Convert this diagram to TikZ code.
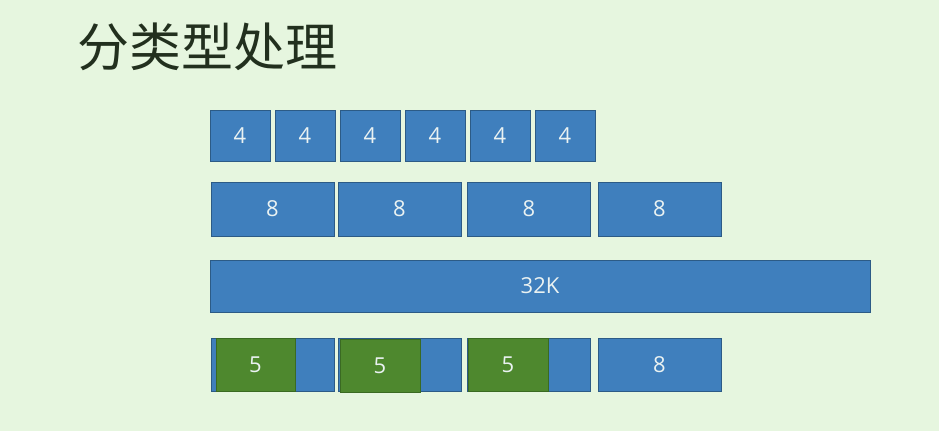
\documentclass[tikz,border=0pt]{standalone}
\usepackage{fontspec}
\setmainfont{Open Sans}
\newfontfamily\cjk{Noto Sans CJK SC}

\definecolor{pagebg}{HTML}{E6F6DF}
\definecolor{cellblue}{HTML}{3F7FBD}
\definecolor{cellline}{HTML}{2C5B86}
\definecolor{usedgreen}{HTML}{4E882E}
\definecolor{usedline}{HTML}{3A6A22}
\definecolor{celltext}{HTML}{EAF2F2}
\definecolor{titleink}{HTML}{22301E}

\tikzset{
	cell/.style={draw=cellline, fill=cellblue, line width=0.9pt, inner sep=0pt,
		text=celltext, font=\fontsize{22}{22}\selectfont, minimum height=#1},
	cell/.default=52pt,
	used/.style={draw=usedline, fill=usedgreen, line width=0.9pt, inner sep=0pt,
		text=celltext, font=\fontsize{22}{22}\selectfont, minimum height=53pt, minimum width=80pt},
}

\begin{document}
\begin{tikzpicture}[x=1pt, y=-1pt]
		\fill[pagebg] (0,0) rectangle (939,431);
		\useasboundingbox (0,0) rectangle (939,431);
		
		\node[anchor=west, inner sep=0pt, text=titleink, font=\cjk\fontsize{52}{52}\selectfont] (title) at (77,47) {分类型处理};
		
		% size class 4
		\node[cell=51pt, minimum width=60pt] (s4a) at (240,136) {4};
		\node[cell=51pt, minimum width=60pt] (s4b) at (305,136) {4};
		\node[cell=51pt, minimum width=60pt] (s4c) at (370,136) {4};
		\node[cell=51pt, minimum width=60pt] (s4d) at (435,136) {4};
		\node[cell=51pt, minimum width=60pt] (s4e) at (500,136) {4};
		\node[cell=51pt, minimum width=60pt] (s4f) at (565,136) {4};
		
		% size class 8
		\node[cell=54pt, minimum width=123pt] (s8a) at (272.5,209) {8};
		\node[cell=54pt, minimum width=123pt] (s8b) at (399.5,209) {8};
		\node[cell=54pt, minimum width=123pt] (s8c) at (529,209) {8};
		\node[cell=54pt, minimum width=123pt] (s8d) at (659.5,209) {8};
		
		% big block
		\node[cell, minimum width=660pt] (big) at (540,286) {32K};
		
		% 5 in 8 slots
		\node[cell=53pt, minimum width=123pt] (r8a) at (272.5,364.5) {};
		\node[cell=53pt, minimum width=123pt] (r8b) at (399.5,364.5) {};
		\node[cell=53pt, minimum width=123pt] (r8c) at (529,364.5) {};
		\node[cell=53pt, minimum width=123pt] (r8d) at (659.5,364.5) {8};
		\node[used, minimum width=79pt] (r5a) at (255.5,364.5) {5};
		\node[used] (r5b) at (380,365.5) {5};
		\node[used] (r5c) at (508,365) {5};
\end{tikzpicture}
\end{document}
